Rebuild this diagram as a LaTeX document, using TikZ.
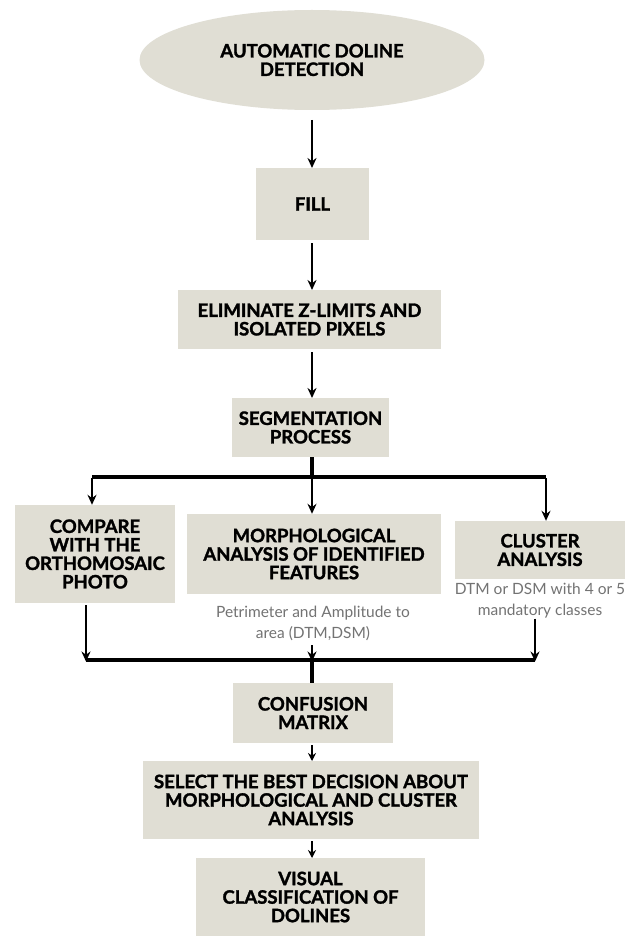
\documentclass[tikz,border=0pt]{standalone}
\usepackage{fontspec}
\setmainfont{Lato}
\newfontfamily\heavy{Lato}[BoldFeatures={FakeBold=1.6}]
\usetikzlibrary{shapes.geometric,arrows.meta}
\definecolor{boxfill}{RGB}{224,222,212}
\definecolor{notegray}{RGB}{115,115,115}
\tikzset{
  box/.style={rectangle, fill=boxfill, draw=none, align=center, inner sep=2pt,
    font=\heavy\fontsize{18.5}{18.5}\selectfont\bfseries},
  note/.style={align=center, text=notegray, inner sep=0pt,
    font=\fontsize{15.5}{21}\selectfont},
  arr/.style={line width=2pt, -{Stealth[length=10pt,width=9pt]}},
  small arr/.style={line width=2pt, -{Stealth[length=8pt,width=8pt]}},
  bar/.style={line width=4pt},
}
\begin{document}
\begin{tikzpicture}[x=1pt,y=-1pt]
\useasboundingbox[fill=white] (0,0) rectangle (635,936);
\node[box, ellipse, minimum width=345pt, minimum height=100pt] (start) at (312,60) {AUTOMATIC DOLINE\\DETECTION};
\node[box, minimum width=113pt, minimum height=72pt] (fill) at (312.5,204) {FILL};
\node[box, minimum width=263pt, minimum height=59pt] (elim) at (309.5,319.5) {ELIMINATE Z-LIMITS AND\\ISOLATED PIXELS};
\node[box, minimum width=157pt, minimum height=59pt] (seg) at (310.5,427.5) {SEGMENTATION\\PROCESS};
\node[box, minimum width=160pt, minimum height=98pt] (comp) at (95,554) {COMPARE\\WITH THE\\ORTHOMOSAIC\\PHOTO};
\node[box, minimum width=254pt, minimum height=80pt] (morph) at (314,554) {MORPHOLOGICAL\\ANALYSIS OF IDENTIFIED\\FEATURES};
\node[box, minimum width=170pt, minimum height=58pt] (clus) at (540,550) {CLUSTER\\ANALYSIS};
\node[note] (pnote) at (313,623) {Petrimeter and Amplitude to\\area (DTM,DSM)};
\node[note] (cnote) at (540,601) {DTM or DSM with 4 or 5\\mandatory classes};
\node[box, minimum width=160pt, minimum height=60pt] (conf) at (313,713) {CONFUSION\\MATRIX};
\node[box, minimum width=336pt, minimum height=78pt] (sel) at (311,800) {SELECT THE BEST DECISION ABOUT\\MORPHOLOGICAL AND CLUSTER\\ANALYSIS};
\node[box, minimum width=229pt, minimum height=78pt] (vis) at (310.5,897) {VISUAL\\CLASSIFICATION OF\\DOLINES};

\coordinate (split) at (312,477);
\coordinate (sl) at (92,477);
\coordinate (sr) at (546,477);
\coordinate (merge) at (312,660);
\coordinate (ml) at (86,660);
\coordinate (mr) at (535,660);

\draw[arr] (312,120) -- (312,168);
\draw[arr] (312,243) -- (312,290);
\draw[arr] (312,352) -- (312,398);
\draw[bar] (split |- seg.south) -- (split);
\draw[bar] (sl) -- (sr);
\draw[arr] ([yshift=-1pt]sl) -- (sl |- comp.north);
\draw[arr] (split) -- (split |- morph.north);
\draw[arr] ([yshift=-1pt]sr) -- (sr |- clus.north);
\draw[arr] (86,605) -- ([yshift=-1.5pt]ml);
\draw[arr] (312,645) -- ([yshift=-1.5pt]merge);
\draw[arr] (mr |- cnote.south) -- ([yshift=-1.5pt]mr);
\draw[bar] (ml) -- (mr);
\draw[bar] (merge) -- (merge |- conf.north);
\draw[small arr] (312,745) -- (312,761);
\draw[small arr] (312,841) -- (312,858);
\end{tikzpicture}
\end{document}
